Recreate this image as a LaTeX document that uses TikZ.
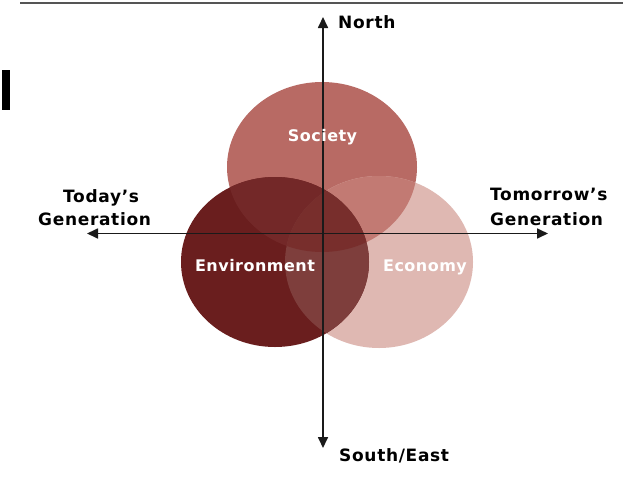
\documentclass[tikz,border=0pt]{standalone}
\usepackage{fontspec}
\setmainfont{DejaVu Sans}
\newfontfamily\spacedfont[LetterSpace=4]{DejaVu Sans}
\newfontfamily\inspacedfont[LetterSpace=3]{DejaVu Sans}
\usetikzlibrary{arrows.meta}
\definecolor{soc}{HTML}{B86A64}
\definecolor{eco}{HTML}{DFB8B2}
\definecolor{env}{HTML}{6A1E1E}
\definecolor{socec}{HTML}{C27A73}
\definecolor{socenv}{HTML}{732828}
\definecolor{envec}{HTML}{7E3E3C}
\definecolor{allthree}{HTML}{782E2C}
\definecolor{axiscol}{HTML}{1A1A1A}
\definecolor{topcol}{HTML}{555555}
\begin{document}
\begin{tikzpicture}[x=1pt,y=-1pt,
  axis/.style={draw=axiscol, line width=1.7pt, {Triangle[length=11pt,width=10pt]}-{Triangle[length=11pt,width=10pt]}},
  lab/.style={font=\spacedfont\fontsize{17}{20}\selectfont\bfseries, inner sep=0pt, text=black},
  inlab/.style={font=\inspacedfont\fontsize{16}{19}\selectfont\bfseries, inner sep=0pt, text=white}]
\useasboundingbox (0,0) rectangle (623,479);
\fill[white] (0,0) rectangle (623,479);
\draw[line width=2pt, draw=topcol] (20,3) -- (623,3);
\fill[black] (2,70) rectangle (10,110);
% base ellipses
\fill[soc] (322,167) ellipse [x radius=95pt, y radius=85pt];
\fill[eco] (379,262) ellipse [x radius=94pt, y radius=86pt];
\fill[env] (275,262) ellipse [x radius=94pt, y radius=85pt];
% overlaps
\begin{scope}
  \clip (322,167) ellipse [x radius=95pt, y radius=85pt];
  \fill[socec] (379,262) ellipse [x radius=94pt, y radius=86pt];
\end{scope}
\begin{scope}
  \clip (322,167) ellipse [x radius=95pt, y radius=85pt];
  \fill[socenv] (275,262) ellipse [x radius=94pt, y radius=85pt];
\end{scope}
\begin{scope}
  \clip (275,262) ellipse [x radius=94pt, y radius=85pt];
  \fill[envec] (379,262) ellipse [x radius=94pt, y radius=86pt];
\end{scope}
\begin{scope}
  \clip (322,167) ellipse [x radius=95pt, y radius=85pt];
  \clip (275,262) ellipse [x radius=94pt, y radius=85pt];
  \fill[allthree] (379,262) ellipse [x radius=94pt, y radius=86pt];
\end{scope}
% axes
\coordinate (N) at (323,17);
\coordinate (S) at (323,448);
\coordinate (W) at (87,233.5);
\coordinate (E) at (548,233.5);
\draw[axis] (S) -- (N);
\draw[axis] (W) -- (E);
% labels
\node[lab, anchor=base west] (north) at (338,28) {North};
\node[lab, anchor=base west] (south) at (339,461) {South/East};
\node[lab, anchor=base west] (today1) at (63,202) {Today’s};
\node[lab, anchor=base west] (today2) at (38,225) {Generation};
\node[lab, anchor=base west] (tom1) at (490,200) {Tomorrow’s};
\node[lab, anchor=base west] (tom2) at (490,225) {Generation};
\node[inlab, anchor=base] (society) at (322.5,141) {Society};
\node[inlab, anchor=base] (environment) at (255,271) {Environment};
\node[inlab, anchor=base] (economy) at (425,271) {Economy};
\end{tikzpicture}
\end{document}
